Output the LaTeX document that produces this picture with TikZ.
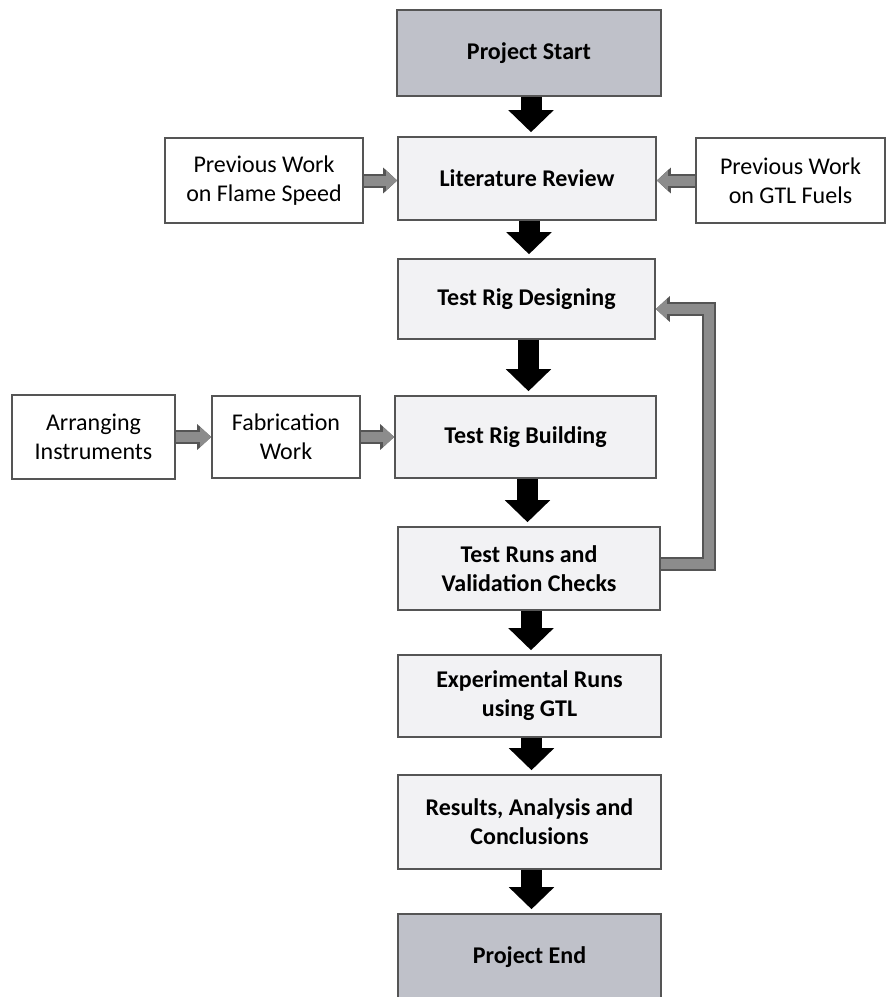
\documentclass[tikz,border=0pt]{standalone}
\usepackage{fontspec}
\setmainfont{Carlito}
\usepackage{xcolor}
\usepackage{tikz}
\usetikzlibrary{arrows.meta}
\definecolor{capgray}{RGB}{191,193,201}
\definecolor{boxgray}{RGB}{242,242,244}
\definecolor{edgegray}{RGB}{85,85,85}
\definecolor{linkgray}{RGB}{140,140,140}

\begin{document}
\begin{tikzpicture}[x=1pt,y=-1pt,
  font=\fontsize{24}{29}\selectfont,
  mainbox/.style={draw=edgegray,line width=1.6pt,fill=boxgray,align=center,font=\fontsize{24}{29}\selectfont\bfseries},
  capbox/.style={mainbox,fill=capgray},
  sidebox/.style={draw=edgegray,line width=1.6pt,fill=white,align=center},
  blacklink/.style={line width=21pt,-{Triangle[width=44pt,length=22pt]},shorten >=4pt},
  graylink/.style={draw=linkgray,line width=10pt,line join=miter,-{Triangle[width=19pt,length=11pt]},
    preaction={draw=edgegray,line width=14pt,line join=miter,-{Triangle[width=25pt,length=14pt]}}}]
  \useasboundingbox (0,0) rectangle (887,997);
  \node[capbox,minimum width=264,minimum height=86] (start) at (529,53) {Project Start};
  \node[mainbox,minimum width=258,minimum height=83] (lit) at (527,178.5) {Literature Review};
  \node[sidebox,minimum width=198,minimum height=85] (flame) at (264,180.5) {Previous Work\\on Flame Speed};
  \node[sidebox,minimum width=189,minimum height=85] (gtl) at (790.5,180.5) {Previous Work\\on GTL Fuels};
  \node[mainbox,minimum width=257,minimum height=80] (design) at (526.5,299) {Test Rig Designing};
  \node[mainbox,minimum width=261,minimum height=82] (build) at (525.5,437) {Test Rig Building};
  \node[sidebox,minimum width=163,minimum height=84] (arrange) at (93.5,437) {Arranging\\Instruments};
  \node[sidebox,minimum width=148,minimum height=82] (fab) at (286,437) {Fabrication\\Work};
  \node[mainbox,minimum width=262,minimum height=83] (runs) at (529,568.5) {Test Runs and\\Validation Checks};
  \node[mainbox,minimum width=263,minimum height=82] (exp) at (529.5,696) {Experimental Runs\\using GTL};
  \node[mainbox,minimum width=263,minimum height=94] (res) at (529.5,822) {Results, Analysis and\\Conclusions};
  \node[capbox,minimum width=263,minimum height=86] (end) at (529.5,957) {Project End};
  \foreach \a/\b in {start/lit,lit/design,design/build,build/runs,runs/exp,exp/res,res/end}
    \draw[blacklink] ([xshift=2pt]\a.south) -- ([xshift=2pt]\a.south |- \b.north);
  \draw[graylink] (flame.east) -- (flame.east -| lit.west);
  \draw[graylink] (gtl.west) -- (gtl.west -| lit.east);
  \draw[graylink] (arrange.east) -- (fab.west);
  \draw[graylink] (fab.east) -- (build.west);
  \draw[graylink] ([yshift=5pt]runs.east) -- ++(48,0) coordinate (loop) |- ([yshift=-10pt]design.east);
\end{tikzpicture}
\end{document}
